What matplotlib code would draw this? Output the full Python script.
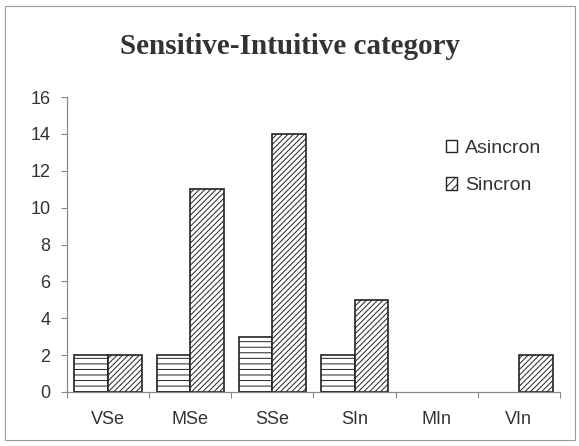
import matplotlib
matplotlib.use("Agg")
import matplotlib.pyplot as plt
from matplotlib.patches import Rectangle, Patch
import numpy as np

categories = ["VSe", "MSe", "SSe", "SIn", "MIn", "VIn"]
asincron = [2, 2, 3, 2, 0, 0]
sincron = [2, 11, 14, 5, 0, 2]
yticks = [0, 2, 4, 6, 8, 10, 12, 14, 16]

plt.rcParams["font.family"] = ["Liberation Sans", "DejaVu Sans"]
plt.rcParams["hatch.linewidth"] = 0.7

fig = plt.figure(figsize=(5.79, 4.46), dpi=100)
fig.patch.set_facecolor("white")
fig.patches.append(Rectangle((5 / 579, 6 / 446), 570 / 579, 434 / 446,
                             transform=fig.transFigure, fill=False,
                             edgecolor="#9a9a9a", linewidth=0.8))

ax = fig.add_axes([67 / 579, 1 - 392 / 446, (560 - 67) / 579, (392 - 97) / 446])

x = np.arange(len(categories))
w = 0.41


def draw_series(offset, values, hatch, label):
    bars = ax.bar(x + offset, values, width=w, facecolor="white", edgecolor="#222222",
                  linewidth=1.2, hatch=hatch, label=label)
    # zero-valued bars leave no outline
    for b, v in zip(bars, values):
        if v == 0:
            b.set_visible(False)


draw_series(-w / 2, asincron, "---", "Asincron")
draw_series(w / 2, sincron, "//////", "Sincron")

ax.set_xlim(-0.5, len(categories) - 0.5)
ax.set_ylim(0, 16)
ax.set_yticks(yticks)
ax.set_yticklabels([str(v) for v in yticks], fontsize=13, color="#333333")
ax.set_xticks(np.arange(len(categories) + 1) - 0.5, minor=False)
ax.set_xticklabels([])
ax.set_xticks(x, minor=True)
ax.set_xticklabels(categories, minor=True, fontsize=13, color="#333333")
ax.tick_params(axis="x", which="major", direction="out", length=4, color="#888888")
ax.tick_params(axis="x", which="minor", length=0, pad=14)
ax.tick_params(axis="y", direction="out", length=4, color="#888888", pad=8)

for s in ["top", "right"]:
    ax.spines[s].set_visible(False)
for s in ["left", "bottom"]:
    ax.spines[s].set_color("#888888")
    ax.spines[s].set_linewidth(0.9)

fig.text(0.5, 1 - 46 / 446, "Sensitive-Intuitive category",
         ha="center", va="center", fontsize=21, fontweight="bold",
         family=["Liberation Serif", "DejaVu Serif"], color="#333333")

handles = [Patch(facecolor="white", edgecolor="#222222", hatch="", label="Asincron"),
           Patch(facecolor="white", edgecolor="#222222", hatch="////", label="Sincron")]
leg = fig.legend(handles=handles, loc="upper left",
                 bbox_to_anchor=(436 / 579, 1 - 130 / 446),
                 frameon=False, fontsize=14, handlelength=0.6, handleheight=0.6,
                 handletextpad=0.4, labelspacing=1.05, borderpad=0)
for t in leg.get_texts():
    t.set_color("#333333")

fig.savefig("out.png", dpi=100, facecolor="white")
